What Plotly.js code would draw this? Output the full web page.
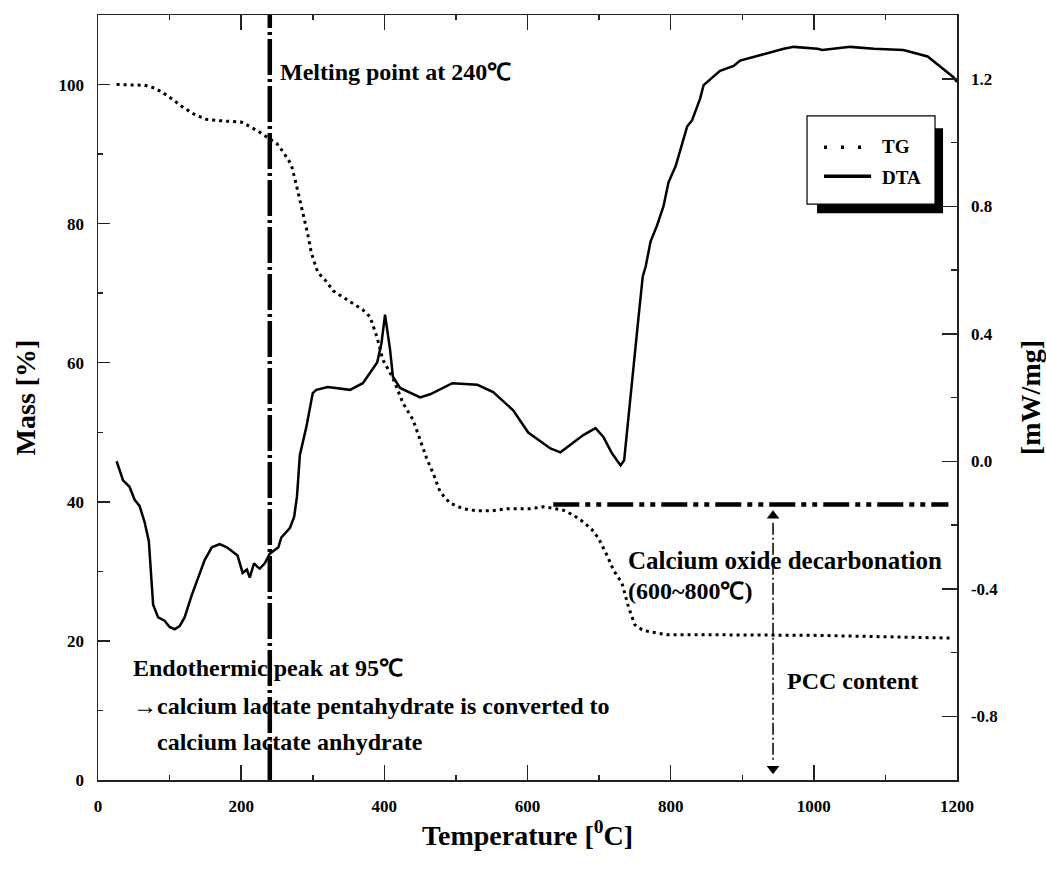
<!DOCTYPE html>
<html>
<head>
<meta charset="utf-8">
<script src="https://cdn.plot.ly/plotly-3.0.1.min.js"></script>
<style>html,body{margin:0;padding:0;background:#fff;}#chart{width:1046px;height:869px;}</style>
</head>
<body>
<div id="chart"></div>
<script>
// TG (mass %, left axis)
const tgTemp = [26,45,65,79,91,105,119,135,151,170,189,200,208,225,238,250,258,270,277,283,288,293,298,307,318,329,352,370,380,390,398,412,426,440,450,459,469,478,492,510,529,550,571,604,622,636,650,664,678,690,699,712,720,732,741,750,760,771,795,820,850,900,950,1000,1050,1100,1150,1195];
const tgMass = [100,100,99.9,99.5,98.8,97.8,96.7,95.7,95.0,94.8,94.7,94.6,94.2,93.2,92.3,91.5,90.4,88.5,85.6,83.0,80.9,78.5,75.8,73.0,71.8,70.3,68.8,67.6,66.6,63.6,60.4,57.8,54.2,51.8,48.9,46.3,43.9,41.4,39.8,39.0,38.7,38.7,39.0,39.0,39.3,39.1,38.8,38.1,37.1,36.0,34.8,32.1,30.2,28.3,24.9,22.3,21.6,21.3,20.9,20.9,20.9,20.9,20.9,20.8,20.7,20.6,20.5,20.4];

// DTA (mW/mg, right axis)
const dtaTemp = [26,35,44,51,58,65,71,75,77,84,93,100,107,114,121,131,140,149,159,170,180,195,202,208,212,218,222,226,233,240,252,256,268,274,278,282,291,300,305,321,352,370,390,396,401,408,412,422,450,464,495,530,552,580,601,632,646,678,695,706,718,730,735,743,750,755,761,765,772,781,790,797,807,816,823,830,841,846,858,869,888,897,935,958,972,1005,1012,1051,1084,1125,1159,1181,1195,1200];
const dtaVal = [0.0,-0.06,-0.08,-0.12,-0.14,-0.19,-0.25,-0.365,-0.45,-0.49,-0.50,-0.52,-0.527,-0.517,-0.49,-0.42,-0.365,-0.31,-0.27,-0.26,-0.27,-0.296,-0.35,-0.34,-0.365,-0.32,-0.33,-0.337,-0.32,-0.29,-0.27,-0.24,-0.21,-0.175,-0.11,0.02,0.107,0.214,0.224,0.233,0.224,0.245,0.31,0.37,0.46,0.35,0.265,0.23,0.20,0.21,0.245,0.24,0.217,0.16,0.09,0.04,0.028,0.082,0.104,0.076,0.025,-0.013,0.003,0.19,0.35,0.45,0.58,0.61,0.69,0.74,0.80,0.875,0.926,1.0,1.05,1.07,1.137,1.18,1.205,1.225,1.24,1.257,1.28,1.294,1.30,1.294,1.29,1.30,1.294,1.29,1.27,1.23,1.205,1.19];

// Annotation / reference values
const meltingPoint = 240;
const pccLevel = 39.6;
const pccLineStart = 636;
const pccLineEnd = 1188;
const pccArrowTemp = 943;
const xTickVals = [0,200,400,600,800,1000,1200];
const leftTickVals = [0,20,40,60,80,100];
const rightTickVals = [-0.8,-0.4,0.0,0.4,0.8,1.2];
const rightTickText = ["-0.8","-0.4","0.0","0.4","0.8","1.2"];

const serif = "Liberation Serif, Times New Roman, serif";
const axColor = "#222";

const traces = [
  {x: tgTemp, y: tgMass, type: "scatter", mode: "lines", name: "TG",
   line: {color: "#000", width: 3, dash: "3px,4px"}, yaxis: "y", showlegend: false},
  {x: dtaTemp, y: dtaVal, type: "scatter", mode: "lines", name: "DTA",
   line: {color: "#000", width: 2.5}, yaxis: "y2", showlegend: false},
  {x: [pccArrowTemp, pccArrowTemp], y: [38.0, 1.6], type: "scatter", mode: "markers",
   marker: {symbol: ["triangle-up","triangle-down"], size: 11, color: "#000"},
   yaxis: "y", showlegend: false, hoverinfo: "skip"}
];

const baseFont = {family: serif, size: 24, color: "#000", weight: "bold"};

function txt(x, y, t, size) {
  return {x: x, y: y, xref: "x", yref: "y", text: t, showarrow: false,
          xanchor: "left", yanchor: "middle", font: Object.assign({}, baseFont, {size: size || 24})};
}

const tickFont = {family: serif, size: 17, color: "#000", weight: "bold"};
const titleFont = {family: serif, size: 28, color: "#000", weight: "bold"};

const layout = {
  width: 1046, height: 869,
  margin: {l: 98, r: 89, t: 15, b: 89},
  paper_bgcolor: "#fff", plot_bgcolor: "#fff",
  showlegend: false,
  xaxis: {
    range: [0, 1200], tickvals: xTickVals, ticks: "inside", ticklen: 15, tickwidth: 1.5,
    tickcolor: axColor, showline: true, linecolor: axColor, linewidth: 1.5, mirror: "ticks",
    showgrid: false, zeroline: false, ticklabelstandoff: 10,
    minor: {dtick: 100, ticks: "inside", ticklen: 5, tickwidth: 1.5, tickcolor: axColor, showgrid: false},
    tickfont: Object.assign({}, tickFont),
    title: {text: "Temperature [<sup>0</sup>C]", standoff: 0, font: titleFont}
  },
  yaxis: {
    range: [0, 110], tickvals: leftTickVals, ticks: "inside", ticklen: 12, tickwidth: 1.5,
    tickcolor: axColor, showline: true, linecolor: axColor, linewidth: 1.5,
    showgrid: false, zeroline: false, ticklabelstandoff: 9,
    minor: {dtick: 10, ticks: "inside", ticklen: 5, tickwidth: 1.5, tickcolor: axColor, showgrid: false},
    tickfont: Object.assign({}, tickFont),
    title: {text: "Mass [%]", standoff: 15, font: titleFont}
  },
  yaxis2: {
    range: [-1.0, 1.4], overlaying: "y", side: "right", anchor: "x",
    tickvals: rightTickVals, ticktext: rightTickText, ticks: "inside", ticklen: 15, tickwidth: 1.5,
    tickcolor: axColor, showline: true, linecolor: axColor, linewidth: 1.5,
    showgrid: false, zeroline: false, ticklabelstandoff: 9,
    minor: {dtick: 0.2, ticks: "inside", ticklen: 6, tickwidth: 1.5, tickcolor: axColor, showgrid: false},
    tickfont: Object.assign({}, tickFont),
    title: {text: "[mW/mg]", standoff: 23, font: titleFont}
  },
  shapes: [
    {type: "line", xref: "x", yref: "y", x0: meltingPoint, x1: meltingPoint, y0: 0, y1: 110,
     line: {color: "#000", width: 4.5, dash: "36px,4px,3px,4px"}},
    {type: "line", xref: "x", yref: "y", x0: pccLineStart, x1: pccLineEnd, y0: pccLevel, y1: pccLevel,
     line: {color: "#000", width: 4.5, dash: "26px,6px,5px,6px,5px,6px"}},
    {type: "line", xref: "x", yref: "y", x0: pccArrowTemp, x1: pccArrowTemp, y0: 37, y1: 2.5,
     line: {color: "#000", width: 1.5, dash: "12px,3px,2px,3px"}},
    // legend shadow and box
    {type: "rect", xref: "x", yref: "y", x0: 1004.5, x1: 1180.5, y0: 81.5, y1: 93.7,
     fillcolor: "#000", line: {width: 0}},
    {type: "rect", xref: "x", yref: "y", x0: 990.5, x1: 1169.3, y0: 82.8, y1: 95.5,
     fillcolor: "#fff", line: {color: "#000", width: 1.2}},
    {type: "line", xref: "x", yref: "y", x0: 1014.2, x1: 1068, y0: 91.0, y1: 91.0,
     line: {color: "#000", width: 3.5, dash: "3px,14px"}},
    {type: "line", xref: "x", yref: "y", x0: 1014.2, x1: 1080, y0: 86.8, y1: 86.8,
     line: {color: "#000", width: 3.5}}
  ],
  annotations: [
    txt(251, 101.8, "Melting point at 240℃"),
    txt(46, 16.1, "Endothermic peak at 95℃"),
    txt(46, 10.6, "→calcium lactate pentahydrate is converted to"),
    txt(79.6, 5.5, "calcium lactate anhydrate"),
    txt(737.6, 31.6, "Calcium oxide decarbonation", 25),
    txt(737.6, 27.2, "(600~800℃)"),
    txt(960, 14.2, "PCC content"),
    txt(1092.5, 91.1, "TG", 19),
    txt(1092.5, 86.7, "DTA", 19)
  ]
};

Plotly.newPlot("chart", traces, layout, {displayModeBar: false, staticPlot: true});
</script>
</body>
</html>
